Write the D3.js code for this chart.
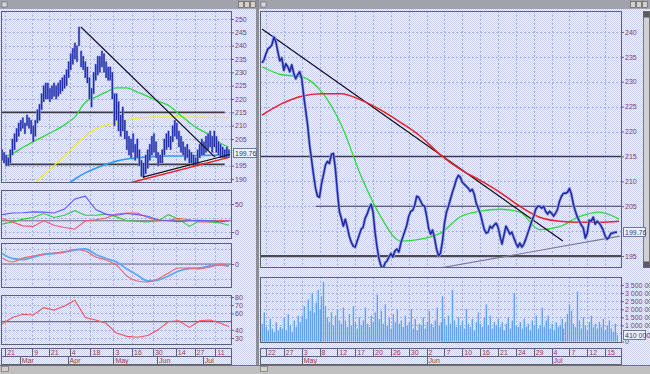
<!DOCTYPE html>
<html>
<head>
<meta charset="utf-8">
<script src="https://cdn.jsdelivr.net/npm/d3@7/dist/d3.min.js"></script>
<style>
  body { margin: 0; background: #c0c0c0; }
  svg { display: block; font-family: "Liberation Sans", Arial, sans-serif; }
</style>
</head>
<body>
<div id="chart"></div>
<script>
const W = 650, H = 374;

// ---------- left window: daily bars 17 Feb - 19 Jul 2000 ----------
const leftHigh = [201,200, 199,198,201,205,207, 209,211,212,213,211, 214,213,212,210,212,
  216,218,222,225,226, 226,224,225,226,225, 226,227,228,229,231, 234,237,239,241,240,
  247,238,236,234,232, 228,224,230,233,236, 236,238,237,234,232, 232,230,222,222,219,
  214,217,212,208,206, 205,207,203,205,201, 197,196,199,201,203, 206,207,204,200,199,
  201,205,207,208,206, 210,212,211,208,206, 204,202,203,201,200, 199,198,201,203,205,
  204,206,207,208,206, 208,206,204,203,202, 201,202,201];
const leftLow = [197,196, 195,195,196,199,201, 204,206,208,209,207, 210,209,207,204,206,
  211,212,216,219,220, 220,219,220,221,220, 221,222,223,224,225, 228,231,233,235,234,
  240,232,231,228,226, 220,217,222,227,229, 230,232,230,228,227, 227,220,210,212,208,
  206,208,205,201,199, 198,200,197,198,195, 191,190.5,192,194,197, 199,200,198,195,196,
  196,199,201,202,201, 204,206,205,202,200, 199,197,198,196,196, 195,195,196,198,199,
  199,200,201,202,200, 202,200,199,198,198, 198,198,198.5];
const leftLast = 199.76;
const leftLevels = [215, 195.5];
const leftLevelFrom = [-0.5, 2];
const leftLevelTo = [107, 107];

// indicator samples, one every 5 bars
const maIdx = [0,5,10,15,20,25,30,35,40,45,50,55,60,65,70,75,80,85,90,95,100,105,109];
const maGreen = [197.8,199.5,201.8,204,206,208,210.3,213.3,218.8,220.7,222.6,224.2,224.2,222.6,221,219.2,217.6,214.4,211.2,208.5,206.5,203.4,202];
const maYellow = [null,null,null,188,191.5,195,198.5,202.5,206,208.8,210.2,211.2,212.2,212.8,213.2,213.3,213.3,213.3,213.2,213.2,213.1,213.1,213];
const maBlue = [null,null,null,null,null,null,187,190,192.3,194,195.5,196.7,197.5,198,198.3,198.5,198.6,198.6,198.7,198.8,198.9,199,199.1];
const adx = [31,34,34.5,36,35.5,34,41,59,64,40,31.5,30,33,31,28,22,20,18.5,20,21,20,18,20];
const diPlus = [14,18,23,26,33,26,30,38,30,30,32,27,20,19,18,20,31,23,10,20,18,16,12];
const diMinus = [24,18,11,10,20,12,8,5,20,22,25,32,34,34,26,20,21,24,22,18,18,21,20];
const macd = [10.5,5.5,4.5,7,9.5,10.5,12,14,15,9.5,5.5,2,-5,-11,-17,-16,-12,-7,-4.5,-4,-2,-1,-2];
const macdSignal = [6,2,6,8,10,11,12,14.5,13,7,4,-1,-12,-17,-18,-15,-9,-4,-4,-5,-3,0,-2];
const rsi = [47,55,59,58,67,64,69,76,55,52,48,36,32,31,33,40,50,51,43,51,52,48,44];

// trend lines as [bar, price]
const leftDown = [[37.9, 247], [102.3, 198.2]];
const leftUpBlack = [[67.7, 190.7], [109.5, 199.2]];
const leftUpRed = [[60.1, 188.3], [109.5, 198.2]];

const leftPriceGrid = [190,195,200,205,210,215,220,225,230,235,240,245,250];
const leftPriceLabels = [190,195,205,210,215,220,225,230,235,240,245,250];
const leftDayTicks = ["2000-02-21","2000-03-09","2000-03-21","2000-04-04","2000-04-18","2000-05-03","2000-05-16","2000-05-30","2000-06-14","2000-06-27","2000-07-11"];
const leftMonthTicks = ["2000-03-01","2000-04-03","2000-05-03","2000-06-01","2000-07-03"];
const monthNames = ["Mar","Apr","May","Jun","Jul"];

// ---------- right window: intraday closes and volume ----------
const rightClose = [
  233.8,234.4,235.6,236.6,236.9,237.4,239.0,238.0,236.0,234.2,
  234.8,232.3,233.6,233.0,232.0,233.4,231.7,230.6,231.4,232.0,
  230.7,227.3,224.3,221.3,217.3,214.3,211.3,208.6,207.0,206.8,
  209.5,211.3,213.3,214.0,213.6,215.4,215.6,212.5,208.0,204.0,
  202.6,201.0,202.4,200.8,199.0,197.8,197.0,196.8,198.0,199.2,
  200.4,200.8,202.6,203.4,204.6,205.4,203.8,199.8,196.8,194.4,
  193.0,192.4,193.6,194.0,194.8,195.5,194.8,196.0,196.4,195.8,
  197.6,198.8,200.0,201.2,203.0,204.0,204.2,205.2,207.0,206.8,
  206.0,205.2,205.0,203.0,200.6,199.4,200.2,198.6,196.4,195.0,
  195.6,198.0,201.6,203.8,205.0,206.4,207.8,209.0,210.4,211.2,
  210.8,209.8,209.4,209.0,208.6,208.0,208.4,207.4,205.6,204.6,
  203.6,202.0,200.4,199.6,199.8,201.0,200.6,201.2,201.6,200.8,
  199.0,197.4,199.2,201.0,200.2,199.4,199.8,198.6,197.6,196.8,
  197.6,196.8,197.4,198.4,199.6,200.8,202.0,203.0,204.4,205.0,
  205.0,204.6,205.0,204.0,203.4,204.0,203.6,203.0,203.6,204.4,
  206.0,207.0,207.6,207.6,207.8,208.6,207.4,205.4,204.0,202.8,
  202.0,201.2,200.6,198.6,199.6,202.2,202.0,202.8,201.4,202.0,
  201.6,201.0,200.2,199.0,198.4,198.8,199.6,199.6,199.8,199.8];
// volume in millions
const rightVolume = [
  1.1,1.8,0.9,0.7,1.4,0.8,0.6,1.2,0.7,0.9,
  0.8,1.5,0.7,1.7,1.0,0.6,1.3,0.9,1.6,1.2,
  1.6,2.2,1.4,2.6,1.9,3.0,1.8,2.4,3.2,2.0,
  2.8,3.7,2.2,1.5,1.2,1.8,1.0,1.6,2.0,1.3,
  1.1,2.1,1.3,0.9,1.7,1.0,2.2,1.2,0.8,1.5,
  1.0,1.3,2.1,1.1,0.9,1.6,1.2,1.8,2.9,1.4,
  1.9,1.1,2.3,1.0,1.5,0.8,1.7,1.2,2.0,1.1,
  1.3,0.9,1.6,1.0,1.2,2.0,0.8,1.4,0.7,1.1,
  1.0,1.5,0.8,1.2,1.9,1.1,0.9,1.3,2.1,1.0,
  1.2,2.8,1.4,1.0,1.6,1.1,3.2,1.3,0.9,1.5,
  1.0,1.3,0.8,2.0,1.1,0.9,1.4,0.7,1.2,1.8,
  1.1,0.9,1.5,2.3,1.0,1.6,0.8,1.2,1.0,1.4,
  0.9,1.2,0.7,1.1,1.5,0.8,1.3,3.0,1.0,0.9,
  1.2,0.8,1.4,0.9,1.1,0.7,1.3,1.0,1.6,0.8,
  1.0,2.1,0.9,1.3,1.6,0.8,1.1,0.7,1.2,0.9,
  1.0,1.4,0.8,1.2,1.7,2.3,1.9,1.1,0.9,3.1,
  1.3,0.8,1.5,1.0,0.7,1.2,1.6,0.9,1.1,0.8,
  1.2,0.9,1.4,0.7,1.0,1.3,0.8,0.6,1.1,0.41];
const rightLast = 199.76;
const rMaIdx = [0,10,20,30,40,50,60,70,80,90,100,110,120,130,140,150,160,170,180];
const rGreen = [233.0,231.4,231.0,228.0,221.3,211.0,202.8,198.0,198.4,199.6,202.9,204.0,204.4,203.8,200.3,200.9,202.9,203.8,202.4];
const rRed = [223.3,225.6,227.1,227.6,227.6,226.3,224.3,221.8,219.0,215.3,212.4,210.2,207.8,205.0,202.8,202.0,201.8,201.8,202.0];
const rightLevels = [215, 205, 195];
const rightLevelFrom = [-0.5, 27, -0.5];
const rightDown = [[0, 240.6], [151.7, 198]];
const rightUp = [[89.7, 192.6], [180.4, 199]];
const rightPriceGrid = [195,200,205,210,215,220,225,230,235,240];
const rightPriceLabels = [195,205,210,215,220,225,230,235,240];
const volGrid = [0,0.5,1,1.5,2,2.5,3,3.5];
const volLabels = [0,1,1.5,2,2.5,3,3.5];
const rightTickIdx = [2,11,20,29,38,47,56,65,74,83,92,101,110,119,128,137,146,155,164,173];
const rightTickLabels = ["22","27","3","8","12","17","20","26","30","2","7","10","16","21","24","29","4","7","12","15"];
const rightMonthIdx = [20,83,146];
const rightMonthLabels = ["May","Jun","Jul"];

// ---------- drawing ----------
const gridColor = "#a7b3de", frameColor = "#5d6172", labelColor = "#7e4646", dateColor = "#b23232";

const svg = d3.select("#chart").append("svg").attr("width", W).attr("height", H);
const defs = svg.append("defs");
const pat = defs.append("pattern").attr("id", "dith").attr("width", 2).attr("height", 2).attr("patternUnits", "userSpaceOnUse");
pat.append("rect").attr("width", 2).attr("height", 2).attr("fill", "#f2f4ff");
pat.append("rect").attr("width", 1).attr("height", 1).attr("fill", "#c6d0f2");
pat.append("rect").attr("x", 1).attr("y", 1).attr("width", 1).attr("height", 1).attr("fill", "#c6d0f2");

svg.append("rect").attr("width", W).attr("height", H).attr("fill", "#c0c0c0");
svg.append("rect").attr("x", 0).attr("y", 0).attr("width", 256).attr("height", 365).attr("fill", "url(#dith)");
svg.append("rect").attr("x", 259).attr("y", 0).attr("width", 391).attr("height", 365).attr("fill", "url(#dith)");
svg.append("rect").attr("x", 256).attr("y", 0).attr("width", 3).attr("height", 366).attr("fill", "#8d8d95");

// title bars
[[0, 256, 238], [259, 650, 630]].forEach(([a, b, bx]) => {
  svg.append("rect").attr("x", a).attr("y", 0).attr("width", b - a).attr("height", 9).attr("fill", "#a2a2ac");
  svg.append("rect").attr("x", a + 2).attr("y", 2).attr("width", 5).attr("height", 5).attr("fill", "#d8d8e4").attr("stroke", "#666").attr("stroke-width", 0.6);
  [0, 6, 12].forEach(o => svg.append("rect").attr("x", bx + o + 0.5).attr("y", 1.5).attr("width", 5).attr("height", 6)
    .attr("fill", "#d4d0c8").attr("stroke", "#555").attr("stroke-width", 0.6));
});
// bottom strip
svg.append("line").attr("x1", 0).attr("x2", W).attr("y1", 365.5).attr("y2", 365.5).attr("stroke", "#70707a");
[1, 260].forEach(x => svg.append("rect").attr("x", x + 0.5).attr("y", 366.5).attr("width", 7).attr("height", 5).attr("fill", "#d4d0c8").attr("stroke", "#666").attr("stroke-width", 0.6));
// right scrollbar
svg.append("rect").attr("x", 643.5).attr("y", 11.5).attr("width", 6).attr("height", 256).attr("fill", "#d0d0d8").attr("stroke", "#777");
svg.append("rect").attr("x", 643.5).attr("y", 11.5).attr("width", 6).attr("height", 6).attr("fill", "#5a5a62");
svg.append("rect").attr("x", 643.5).attr("y", 261.5).attr("width", 6).attr("height", 6).attr("fill", "#5a5a62");

function makePanel(x0, x1, y0, y1, id) {
  const g = svg.append("g");
  g.append("rect").attr("x", x0).attr("y", y0).attr("width", x1 - x0).attr("height", y1 - y0).attr("fill", "url(#dith)");
  defs.append("clipPath").attr("id", id).append("rect").attr("x", x0 + 1).attr("y", y0 + 1).attr("width", x1 - x0 - 2).attr("height", y1 - y0 - 2);
  const grid = g.append("g").attr("clip-path", `url(#${id})`);
  const body = g.append("g").attr("clip-path", `url(#${id})`);
  const frame = () => g.append("rect").attr("x", x0 + 0.5).attr("y", y0 + 0.5).attr("width", x1 - x0 - 1).attr("height", y1 - y0 - 1)
    .attr("fill", "none").attr("stroke", frameColor);
  return { x0, x1, y0, y1, grid, body, frame };
}
function gridV(p, xs) {
  p.grid.selectAll(null).data(xs).join("line")
    .attr("x1", d => Math.round(d) + 0.5).attr("x2", d => Math.round(d) + 0.5).attr("y1", p.y0).attr("y2", p.y1)
    .attr("stroke", gridColor).attr("stroke-dasharray", "2,2");
}
function gridH(p, ys) {
  p.grid.selectAll(null).data(ys).join("line")
    .attr("y1", d => Math.round(d) + 0.5).attr("y2", d => Math.round(d) + 0.5).attr("x1", p.x0).attr("x2", p.x1)
    .attr("stroke", gridColor).attr("stroke-dasharray", "2,2");
}
function axis(x, scale, ticks, fmt) {
  const g = svg.append("g").attr("transform", `translate(${x},0)`)
    .call(d3.axisRight(scale).tickValues(ticks).tickSize(2).tickPadding(1).tickFormat(fmt));
  g.select(".domain").remove();
  g.selectAll("line").attr("stroke", "#666");
  g.selectAll("text").attr("font-size", 7).attr("fill", labelColor).attr("font-family", "Liberation Sans, Arial, sans-serif");
  return g;
}
function refLine(p, y, color, w) {
  p.body.append("line").attr("x1", p.x0).attr("x2", p.x1).attr("y1", y).attr("y2", y).attr("stroke", color).attr("stroke-width", w);
}
function valueBox(x, y, w, text) {
  svg.append("rect").attr("x", x + 0.5).attr("y", Math.round(y) - 4.5).attr("width", w).attr("height", 9)
    .attr("fill", "#eef1ff").attr("stroke", "#6a78a8");
  svg.append("text").attr("x", x + 2).attr("y", Math.round(y) + 2.5).attr("font-size", 7).attr("fill", "#333a66").text(text);
}
function dateRows(x0, x1, dayXs, dayLabels, monXs, monLabels) {
  [[348, 356], [356, 364]].forEach(([a, b]) => svg.append("rect").attr("x", x0 + 0.5).attr("y", a + 0.5)
    .attr("width", x1 - x0 - 1).attr("height", b - a).attr("fill", "url(#dith)").attr("stroke", frameColor));
  dayXs.forEach((x, i) => {
    svg.append("line").attr("x1", Math.round(x) + 0.5).attr("x2", Math.round(x) + 0.5).attr("y1", 348).attr("y2", 356).attr("stroke", frameColor);
    svg.append("text").attr("x", x + 2).attr("y", 354.5).attr("font-size", 7).attr("fill", dateColor).text(dayLabels[i]);
  });
  monXs.forEach((x, i) => {
    svg.append("line").attr("x1", Math.round(x) + 0.5).attr("x2", Math.round(x) + 0.5).attr("y1", 356).attr("y2", 364).attr("stroke", frameColor);
    svg.append("text").attr("x", x + 2).attr("y", 362.5).attr("font-size", 7).attr("fill", dateColor).text(monLabels[i]);
  });
}

// ---------- left window ----------
const leftDates = [];
for (let d = new Date(2000, 1, 17); d <= new Date(2000, 6, 19); d = d3.timeDay.offset(d, 1)) if (d.getDay() % 6) leftDates.push(d);
const parse = d3.timeParse("%Y-%m-%d");
const barOf = s => leftDates.findIndex(d => +d === +parse(s));

const xL = d3.scaleLinear().domain([-0.5, 110.5]).range([1, 232]);
const leftDayX = leftDayTicks.map(s => xL(barOf(s) - 0.5));
const leftMonX = leftMonthTicks.map(s => xL(barOf(s) - 0.5));

const yL = d3.scaleLinear().domain([188.5, 253]).range([183, 11]);
const pL = makePanel(1, 232, 11, 183, "clipL");
gridV(pL, leftDayX);
gridH(pL, leftPriceGrid.map(yL));
leftLevels.forEach((v, i) => pL.body.append("line").attr("x1", xL(leftLevelFrom[i])).attr("x2", xL(leftLevelTo[i]))
  .attr("y1", yL(v)).attr("y2", yL(v)).attr("stroke", "#3a3a40").attr("stroke-width", 1.6));

const maLine = y => d3.line().defined(d => d[1] != null).x(d => xL(d[0])).y(d => y(d[1])).curve(d3.curveMonotoneX);
const jagLine = y => d3.line().x(d => xL(d[0])).y(d => y(d[1]));
const drawMa = (p, line, vals, color, w) => p.body.append("path").datum(maIdx.map((b, i) => [b, vals[i]]))
  .attr("d", line).attr("fill", "none").attr("stroke", color).attr("stroke-width", w);

drawMa(pL, maLine(yL), maBlue, "#2c9bf2", 1.6);
drawMa(pL, maLine(yL), maYellow, "#f2ee1e", 1.3);
drawMa(pL, maLine(yL), maGreen, "#2ade2a", 1.3);

pL.body.selectAll(null).data(leftHigh).join("line")
  .attr("x1", (d, i) => xL(i)).attr("x2", (d, i) => xL(i))
  .attr("y1", (d, i) => yL(leftLow[i]) + 0.5).attr("y2", d => yL(d) - 0.5)
  .attr("stroke", "#8a94e2").attr("stroke-width", 2.4);
pL.body.selectAll(null).data(leftHigh).join("line")
  .attr("x1", (d, i) => xL(i)).attr("x2", (d, i) => xL(i))
  .attr("y1", (d, i) => yL(leftLow[i])).attr("y2", d => yL(d))
  .attr("stroke", "#2230a6").attr("stroke-width", 1.3);

const segL = (seg, color, w) => pL.body.append("line").attr("x1", xL(seg[0][0])).attr("y1", yL(seg[0][1]))
  .attr("x2", xL(seg[1][0])).attr("y2", yL(seg[1][1])).attr("stroke", color).attr("stroke-width", w);
segL(leftDown, "#111", 1.2);
segL(leftUpRed, "#ee2020", 1.5);
segL(leftUpBlack, "#111", 1.2);
pL.frame();
axis(232, yL, leftPriceLabels, d3.format("d"));
valueBox(233, yL(leftLast), 23, d3.format(".2f")(leftLast));

// panel 2: directional movement
const y2 = d3.scaleLinear().domain([-12.5, 75]).range([239, 190]);
const p2 = makePanel(1, 232, 190, 239, "clip2");
gridV(p2, leftDayX);
gridH(p2, [0, 25, 50].map(y2));
refLine(p2, y2(20), "#6e6e78", 1.1);
drawMa(p2, jagLine(y2), diPlus, "#32cc32", 1.1);
drawMa(p2, jagLine(y2), diMinus, "#ff5858", 1.1);
drawMa(p2, jagLine(y2), adx, "#5c5cf8", 1.1);
p2.frame();
axis(232, y2, [0, 50], d3.format("d"));

// panel 3: MACD
const y3 = d3.scaleLinear().domain([-24, 21]).range([288, 243]);
const p3 = makePanel(1, 232, 243, 288, "clip3");
gridV(p3, leftDayX);
gridH(p3, [-15, 0, 15].map(y3));
refLine(p3, y3(0), "#6e6e78", 1.1);
drawMa(p3, maLine(y3), macd, "#5aaaf4", 1.8);
drawMa(p3, maLine(y3), macdSignal, "#ff6262", 1.1);
p3.frame();
axis(232, y3, [0], d3.format("d"));

// panel 4: RSI
const y4 = d3.scaleLinear().domain([21.5, 82.4]).range([345, 295]);
const p4 = makePanel(1, 232, 295, 345, "clip4");
gridV(p4, leftDayX);
gridH(p4, [30, 40, 60, 70, 80].map(y4));
refLine(p4, y4(50), "#6e6e78", 1.1);
drawMa(p4, jagLine(y4), rsi, "#ff5050", 1.1);
p4.frame();
axis(232, y4, [30, 40, 60, 70, 80], d3.format("d"));

dateRows(1, 232, leftDayX, leftDayTicks.map(s => String(parse(s).getDate())), leftMonX, monthNames);

// ---------- right window ----------
const xR = d3.scaleLinear().domain([-0.5, 181.5]).range([261, 622]);
const rightDayX = rightTickIdx.map(i => xR(i));
const rightMonX = rightMonthIdx.map(i => xR(i));

const yR = d3.scaleLinear().domain([192.6, 244.2]).range([268, 11]);
const pR = makePanel(260, 622, 11, 268, "clipR");
gridV(pR, rightDayX);
gridH(pR, rightPriceGrid.map(yR));
rightLevels.forEach((v, i) => pR.body.append("line").attr("x1", xR(rightLevelFrom[i])).attr("x2", 622)
  .attr("y1", yR(v)).attr("y2", yR(v)).attr("stroke", i === 2 ? "#4a4a50" : "#3a3a40").attr("stroke-width", i === 0 ? 1.4 : i === 1 ? 1 : 2.2));
const segR = (seg, color, w) => pR.body.append("line").attr("x1", xR(seg[0][0])).attr("y1", yR(seg[0][1]))
  .attr("x2", xR(seg[1][0])).attr("y2", yR(seg[1][1])).attr("stroke", color).attr("stroke-width", w);
segR(rightUp, "#7a7a82", 1.1);

const rLine = d3.line().x(d => xR(d[0])).y(d => yR(d[1])).curve(d3.curveMonotoneX);
const rPts = vals => rMaIdx.map((b, i) => [b, vals[i]]);
pR.body.append("path").datum(rPts(rGreen)).attr("d", rLine).attr("fill", "none").attr("stroke", "#2ade2a").attr("stroke-width", 1.3);
segR(rightDown, "#111", 1.2);
pR.body.append("path").datum(rPts(rRed)).attr("d", rLine).attr("fill", "none").attr("stroke", "#ee2020").attr("stroke-width", 1.5);

const priceLine = d3.line().x((d, i) => xR(i)).y(d => yR(d));
pR.body.append("path").datum(rightClose).attr("d", priceLine).attr("fill", "none").attr("stroke", "#98a0e8").attr("stroke-width", 3).attr("stroke-linejoin", "round");
pR.body.append("path").datum(rightClose).attr("d", priceLine).attr("fill", "none").attr("stroke", "#1e2a9e").attr("stroke-width", 1.5).attr("stroke-linejoin", "round");
pR.frame();
axis(622, yR, rightPriceLabels, d3.format("d"));
valueBox(623, yR(rightLast), 22, d3.format(".2f")(rightLast));

// volume
const yV = d3.scaleLinear().domain([-0.09, 4.0]).range([343, 277]);
const pV = makePanel(260, 622, 277, 343, "clipV");
gridV(pV, rightDayX);
gridH(pV, volGrid.map(yV));
const bw = xR(1) - xR(0);
pV.body.selectAll(null).data(rightVolume).join("rect")
  .attr("x", (d, i) => xR(i) - bw / 2).attr("width", bw)
  .attr("y", d => yV(d)).attr("height", d => yV(0) - yV(d)).attr("fill", "#a8caf5");
pV.body.selectAll(null).data(rightVolume).join("line")
  .attr("x1", (d, i) => Math.round(xR(i)) + 0.5).attr("x2", (d, i) => Math.round(xR(i)) + 0.5)
  .attr("y1", yV(0)).attr("y2", d => yV(d)).attr("stroke", "#62a2ee").attr("stroke-width", 1);
pV.frame();
const volFmt = v => d3.format(",")(Math.round(v * 1e6)).replace(/,/g, " ");
axis(622, yV, volLabels, volFmt);
valueBox(623, yV(rightVolume[rightVolume.length - 1]), 22, volFmt(rightVolume[rightVolume.length - 1]));

dateRows(260, 622, rightDayX, rightTickLabels, rightMonX, rightMonthLabels);
</script>
</body>
</html>
